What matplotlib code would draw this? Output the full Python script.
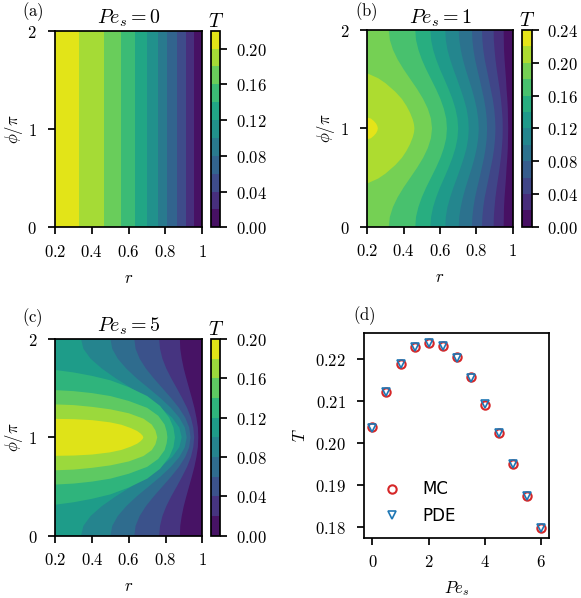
import matplotlib

matplotlib.use("Agg")
import matplotlib.pyplot as plt
import numpy as np
from matplotlib.cm import ScalarMappable
from matplotlib.colors import BoundaryNorm, ListedColormap

plt.rcParams.update({
    "mathtext.fontset": "cm",
    "font.size": 12,
    "axes.linewidth": 1.25,
    "xtick.major.width": 1.25,
    "ytick.major.width": 1.25,
    "xtick.major.size": 5,
    "ytick.major.size": 5,
    "xtick.major.pad": 6,
    "ytick.major.pad": 8,
})

# (a) Pe_s = 0 : T depends on r only -> r where T crosses 0.02, 0.04, ... 0.20
levels_a = [0.00, 0.02, 0.04, 0.06, 0.08, 0.10, 0.12, 0.14, 0.16, 0.18, 0.20, 0.22]
cross_a = [0.958, 0.912, 0.863, 0.812, 0.758, 0.700, 0.636, 0.558, 0.467, 0.331]

# (b) Pe_s = 1 : iso-T lines, lower half (phi/pi in [0, 1]), mirrored about phi = pi
levels_b = [0.00, 0.02, 0.04, 0.06, 0.08, 0.10, 0.12, 0.14, 0.16, 0.18, 0.20, 0.22, 0.24]
phi_b = [0.0, 0.1, 0.2, 0.3, 0.4, 0.5, 0.6, 0.7, 0.8, 0.9, 1.0]
iso_b = [
    [0.950, 0.951, 0.952, 0.955, 0.959, 0.963, 0.966, 0.970, 0.973, 0.974, 0.975],  # 0.02
    [0.895, 0.896, 0.900, 0.905, 0.912, 0.920, 0.928, 0.935, 0.940, 0.944, 0.945],  # 0.04
    [0.831, 0.833, 0.838, 0.846, 0.857, 0.868, 0.879, 0.890, 0.898, 0.903, 0.905],  # 0.06
    [0.776, 0.778, 0.784, 0.793, 0.805, 0.818, 0.830, 0.842, 0.851, 0.857, 0.859],  # 0.08
    [0.703, 0.706, 0.714, 0.726, 0.741, 0.758, 0.775, 0.790, 0.802, 0.810, 0.813],  # 0.10
    [0.629, 0.632, 0.641, 0.656, 0.674, 0.694, 0.713, 0.731, 0.746, 0.755, 0.758],  # 0.12
    [0.547, 0.551, 0.562, 0.579, 0.600, 0.624, 0.647, 0.668, 0.685, 0.696, 0.700],  # 0.14
    [0.464, 0.468, 0.481, 0.500, 0.524, 0.551, 0.578, 0.602, 0.621, 0.634, 0.638],  # 0.16
    [0.318, 0.324, 0.341, 0.367, 0.400, 0.437, 0.474, 0.507, 0.533, 0.550, 0.556],  # 0.18
]
iso_b20_r = [0.200, 0.260, 0.300, 0.354, 0.390, 0.415, 0.435, 0.450, 0.457, 0.459]
iso_b20_phi = [0.44, 0.49, 0.54, 0.627, 0.70, 0.77, 0.84, 0.91, 0.96, 1.00]
iso_b22_r = [0.200, 0.220, 0.236, 0.248, 0.255, 0.258]
iso_b22_phi = [0.89, 0.90, 0.925, 0.95, 0.975, 1.00]

# (c) Pe_s = 5
levels_c = [0.00, 0.02, 0.04, 0.06, 0.08, 0.10, 0.12, 0.14, 0.16, 0.18, 0.20]
phi_c = [0.0, 0.1, 0.2, 0.3, 0.4, 0.5, 0.6, 0.7, 0.8, 0.9, 1.0]
iso_c = [
    [0.878, 0.880, 0.888, 0.899, 0.913, 0.928, 0.943, 0.957, 0.968, 0.976, 0.978],  # 0.02
    [0.765, 0.770, 0.783, 0.804, 0.831, 0.861, 0.890, 0.917, 0.938, 0.951, 0.956],  # 0.04
    [0.630, 0.637, 0.659, 0.693, 0.736, 0.783, 0.830, 0.873, 0.907, 0.929, 0.936],  # 0.06
    [0.500, 0.510, 0.540, 0.586, 0.643, 0.708, 0.772, 0.829, 0.875, 0.905, 0.915],  # 0.08
    [0.340, 0.353, 0.392, 0.453, 0.529, 0.614, 0.699, 0.775, 0.836, 0.875, 0.888],  # 0.10
]
iso_c12_r = [0.200, 0.300, 0.400, 0.500, 0.600, 0.700, 0.770, 0.820, 0.843, 0.851]
iso_c12_phi = [0.315, 0.340, 0.375, 0.420, 0.490, 0.580, 0.680, 0.800, 0.900, 1.000]
iso_c14_r = [0.200, 0.300, 0.400, 0.500, 0.600, 0.700, 0.760, 0.795, 0.806, 0.810]
iso_c14_phi = [0.520, 0.530, 0.550, 0.580, 0.630, 0.700, 0.780, 0.870, 0.940, 1.000]
iso_c16_r = [0.200, 0.300, 0.400, 0.500, 0.600, 0.680, 0.725, 0.745, 0.755]
iso_c16_phi = [0.665, 0.672, 0.690, 0.715, 0.755, 0.810, 0.870, 0.930, 1.000]
iso_c18_r = [0.200, 0.300, 0.400, 0.497, 0.560, 0.610, 0.645, 0.665, 0.676, 0.679]
iso_c18_phi = [0.812, 0.815, 0.825, 0.847, 0.872, 0.905, 0.935, 0.962, 0.985, 1.000]

# (d) mean temperature vs Pe_s
pe_s = [0, 0.5, 1, 1.5, 2, 2.5, 3, 3.5, 4, 4.5, 5, 5.5, 6]
T_mc = [0.2038, 0.2120, 0.2188, 0.2228, 0.2238, 0.2230, 0.2203,
        0.2156, 0.2090, 0.2022, 0.1950, 0.1873, 0.1797]
T_pde = [0.2036, 0.2121, 0.2187, 0.2227, 0.2238, 0.2231, 0.2202,
         0.2155, 0.2091, 0.2023, 0.1950, 0.1874, 0.1796]


def band_colors(levels):
    n = len(levels) - 1
    return plt.cm.viridis((np.arange(n) + 0.5) / n)


def draw_field(ax, cax, levels, lines, title, cticks):
    """Paint nested regions T > level, each bounded by an iso-line and r = 0.2."""
    colors = band_colors(levels)
    ax.set_facecolor(colors[0])
    for k, (r, phi) in enumerate(lines):
        r = np.asarray(r)
        phi = np.asarray(phi)
        rr = np.concatenate([[0.2], r, r[::-1][1:], [0.2]])
        pp = np.concatenate([[phi[0]], phi, 2 - phi[::-1][1:], [2 - phi[0]]])
        ax.fill(rr, pp, color=colors[k + 1], lw=0)
    ax.set_xlim(0.2, 1)
    ax.set_ylim(0, 2)
    ax.set_xticks([0.2, 0.4, 0.6, 0.8, 1.0], ["$0.2$", "$0.4$", "$0.6$", "$0.8$", "$1$"])
    ax.set_yticks([0, 1, 2], ["$0$", "$1$", "$2$"])
    ax.set_xlabel("$r$", labelpad=6)
    ax.set_ylabel(r"$\phi/\pi$", labelpad=2)
    ax.set_title(title, pad=5)

    sm = ScalarMappable(BoundaryNorm(levels, len(levels) - 1), ListedColormap(colors))
    cb = plt.gcf().colorbar(sm, cax=cax, ticks=cticks)
    cb.minorticks_off()
    cb.ax.set_yticklabels([f"${t:.2f}$" for t in cticks])
    cb.ax.tick_params(pad=6)
    cb.outline.set_linewidth(1.25)
    cax.set_title("$T$", pad=2)


fig = plt.figure(figsize=(5.81, 5.98), dpi=100)

ax_a = fig.add_axes([0.0947, 0.6199, 0.2530, 0.3288])
cax_a = fig.add_axes([0.3632, 0.6199, 0.0160, 0.3288])
ax_b = fig.add_axes([0.6322, 0.6209, 0.2503, 0.3288])
cax_b = fig.add_axes([0.8985, 0.6209, 0.0170, 0.3288])
ax_c = fig.add_axes([0.0952, 0.1042, 0.2530, 0.3289])
cax_c = fig.add_axes([0.3632, 0.1042, 0.0160, 0.3289])
ax_d = fig.add_axes([0.6265, 0.1008, 0.3190, 0.3418])

lines_a = [([r, r], [0.0, 1.0]) for r in cross_a]
draw_field(ax_a, cax_a, levels_a, lines_a, "$Pe_s = 0$",
           [0.00, 0.04, 0.08, 0.12, 0.16, 0.20])

lines_b = [(r, phi_b) for r in iso_b] + [(iso_b20_r, iso_b20_phi), (iso_b22_r, iso_b22_phi)]
draw_field(ax_b, cax_b, levels_b, lines_b, "$Pe_s = 1$",
           [0.00, 0.04, 0.08, 0.12, 0.16, 0.20, 0.24])

lines_c = [(r, phi_c) for r in iso_c] + [
    (iso_c12_r, iso_c12_phi), (iso_c14_r, iso_c14_phi),
    (iso_c16_r, iso_c16_phi), (iso_c18_r, iso_c18_phi)]
draw_field(ax_c, cax_c, levels_c, lines_c, "$Pe_s = 5$",
           [0.00, 0.04, 0.08, 0.12, 0.16, 0.20])

ax_d.plot(pe_s, T_mc, "o", ms=6, mfc="none", mec="tab:red", mew=1.5, label="MC")
ax_d.plot(pe_s, T_pde, "v", ms=6, mfc="none", mec="tab:blue", mew=1.2, label="PDE")
ax_d.set_xticks([0, 2, 4, 6], ["$0$", "$2$", "$4$", "$6$"])
ax_d.set_yticks([0.18, 0.19, 0.20, 0.21, 0.22],
                ["$0.18$", "$0.19$", "$0.20$", "$0.21$", "$0.22$"])
ax_d.set_xlabel("$Pe_s$", labelpad=6)
ax_d.set_ylabel("$T$", labelpad=4)
ax_d.legend(loc="lower left", bbox_to_anchor=(-0.02, -0.01), frameon=False,
            handletextpad=0.8, labelspacing=0.5)

for x, y, s in [(0.038, 0.980, "a"), (0.611, 0.980, "b"),
                (0.038, 0.468, "c"), (0.608, 0.473, "d")]:
    fig.text(x, y, rf"$\mathrm{{({s})}}$", ha="left", va="center")

fig.savefig("out.png", dpi=100)
